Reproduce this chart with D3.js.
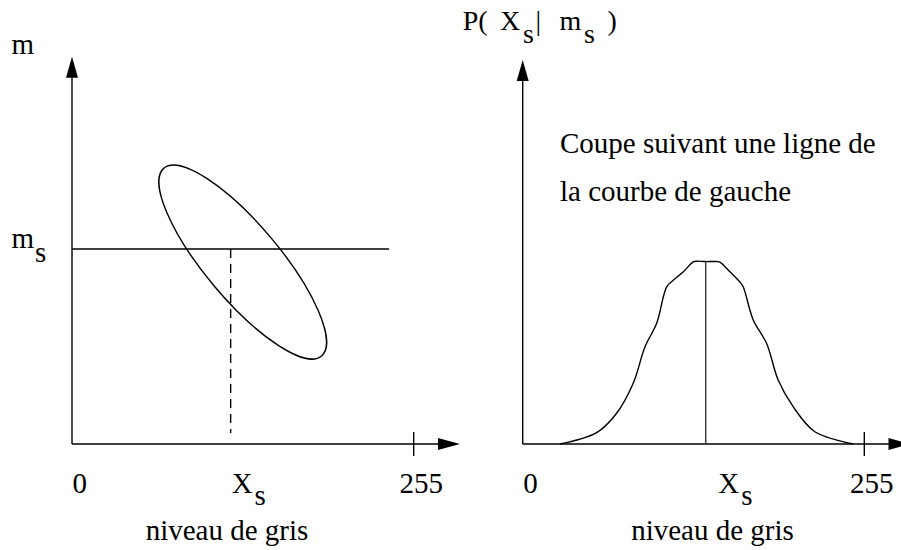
<!DOCTYPE html>
<html><head><meta charset="utf-8">
<script src="https://cdn.jsdelivr.net/npm/d3@7"></script>
<style>
html,body{margin:0;padding:0;background:#fff;}
svg{display:block;}
text{font-family:"Liberation Serif","Times New Roman",serif;font-size:29px;fill:#000;}
</style></head>
<body><svg id="c" width="901" height="550"></svg>
<script>
// ---------- data ----------
const xDomain = [0, 255];          // niveau de gris
const axisEnd = 289.5;             // arrow tip (gray-level units)
const xTickLabels = ["0", "X", "255"];
const xLabel = "niveau de gris";

// left panel: joint (X, m) ellipse
const leftYMax = 289;              // m axis extent
const XsLeft = 118.4;
const ms = 145.5;
const msLineEnd = 236.6;
const dashBottom = 8.2;
const ellipseCenter = [127.4, 135.8];
const ellipseRadii = [91.5, 27.8];
const ellipseAngle = 50;           // degrees, tilt

// right panel: P(Xs | ms) cross-section
const XsRight = 136.6;
const rightYMax = 2.10;
const curveX = [27.8, 55.2, 70.1, 82.5, 91.3, 100.0, 107.5, 112.4, 119.9, 127.3, 129.9, 136.6, 144.8, 147.2, 154.7, 162.1, 164.6, 172.1, 182.1, 190.7, 201.9, 218.1, 246.7];
const curveP = [0, 0.062, 0.168, 0.332, 0.532, 0.660, 0.860, 0.896, 0.942, 0.996, 1.0, 0.998, 0.998, 0.995, 0.942, 0.887, 0.860, 0.678, 0.550, 0.350, 0.204, 0.067, 0];
const noteLines = ["Coupe suivant une ligne de", "la courbe de gauche"];

// ---------- drawing ----------
const svg = d3.select("#c");
const xL = d3.scaleLinear().domain(xDomain).range([72, 413.7]);
const yL = d3.scaleLinear().domain([0, 255]).range([444, 102.3]);
const xR = d3.scaleLinear().domain(xDomain).range([522.7, 864.3]);
const yR = d3.scaleLinear().domain([0, 1]).range([444, 261.2]);

const sw = 1.4;
function arrowUp(x, yTip) {
  svg.append("path").attr("d", `M${x},${yTip} L${x-6},${yTip+21} L${x+6},${yTip+21} Z`).attr("fill", "#000");
}
function arrowRight(xTip, y) {
  svg.append("path").attr("d", `M${xTip},${y} L${xTip-22},${y-6} L${xTip-22},${y+6} Z`).attr("fill", "#000");
}
function axes(xs, ys, yTop) {
  const x0 = xs(0), y0 = ys(0);
  svg.append("line").attr("x1", x0).attr("y1", y0).attr("x2", x0).attr("y2", ys(yTop) + 15)
    .attr("stroke", "#000").attr("stroke-width", sw);
  arrowUp(x0, ys(yTop));
  svg.append("line").attr("x1", x0).attr("y1", y0).attr("x2", xs(axisEnd) - 15).attr("y2", y0)
    .attr("stroke", "#000").attr("stroke-width", sw);
  arrowRight(xs(axisEnd), y0);
  svg.append("line").attr("x1", xs(255)).attr("x2", xs(255)).attr("y1", y0 - 12).attr("y2", y0 + 12)
    .attr("stroke", "#000").attr("stroke-width", sw);
}
function xLabels(xs, Xs, xOff, subY, lblX) {
  svg.append("text").attr("x", xs(0) + 0.6).attr("y", 493).text(xTickLabels[0]);
  const t = svg.append("text").attr("x", xs(Xs) + xOff).attr("y", 493).text(xTickLabels[1]);
  t.append("tspan").attr("dx", 2).attr("dy", 12).text("s");
  svg.append("text").attr("x", xs(255) + 7.5).attr("y", 493).attr("text-anchor", "middle").text(xTickLabels[2]);
  svg.append("text").attr("x", lblX).attr("y", 540).attr("text-anchor", "middle").text(xLabel);
}

// Left panel
axes(xL, yL, leftYMax);
svg.append("line").attr("x1", xL(0)).attr("x2", xL(msLineEnd)).attr("y1", yL(ms)).attr("y2", yL(ms))
  .attr("stroke", "#000").attr("stroke-width", sw);
svg.append("line").attr("x1", xL(XsLeft)).attr("x2", xL(XsLeft)).attr("y1", yL(ms)).attr("y2", yL(dashBottom))
  .attr("stroke", "#000").attr("stroke-width", sw).attr("stroke-dasharray", "9,6");
svg.append("ellipse")
  .attr("cx", 0).attr("cy", 0)
  .attr("rx", xL(ellipseRadii[0]) - xL(0))
  .attr("ry", yL(0) - yL(ellipseRadii[1]))
  .attr("transform", `translate(${xL(ellipseCenter[0])},${yL(ellipseCenter[1])}) rotate(${ellipseAngle})`)
  .attr("fill", "none").attr("stroke", "#000").attr("stroke-width", sw);
svg.append("text").attr("x", 11.5).attr("y", 54).text("m");
const msT = svg.append("text").attr("x", 11.5).attr("y", 248).text("m");
msT.append("tspan").attr("dx", 1).attr("dy", 14).text("s");
xLabels(xL, XsLeft, 1, 12, 227);

// Right panel
axes(xR, yR, rightYMax);
const line = d3.line().x((d, i) => xR(curveX[i])).y(d => yR(d)).curve(d3.curveCatmullRom.alpha(0.5));
svg.append("path").datum(curveP).attr("d", line)
  .attr("fill", "none").attr("stroke", "#000").attr("stroke-width", sw);
svg.append("line").attr("x1", xR(XsRight)).attr("x2", xR(XsRight)).attr("y1", yR(0)).attr("y2", yR(0.998))
  .attr("stroke", "#333").attr("stroke-width", sw);
noteLines.forEach((s, i) => svg.append("text").attr("x", 560).attr("y", 153 + i * 48).text(s));
xLabels(xR, XsRight, 12.5, 12, 712.5);

// P( Xs | ms ) title
const tg = svg.append("g").style("font-size", "28px");
[["P(", 462.7, 30], ["X", 500, 30], ["s", 523, 43], ["|", 535.5, 30], ["m", 559.5, 30], ["s", 584, 43], [")", 607.5, 30]]
  .forEach(([s, x, y]) => tg.append("text").attr("x", x).attr("y", y).style("font-size", "28px").text(s));
</script></body></html>
